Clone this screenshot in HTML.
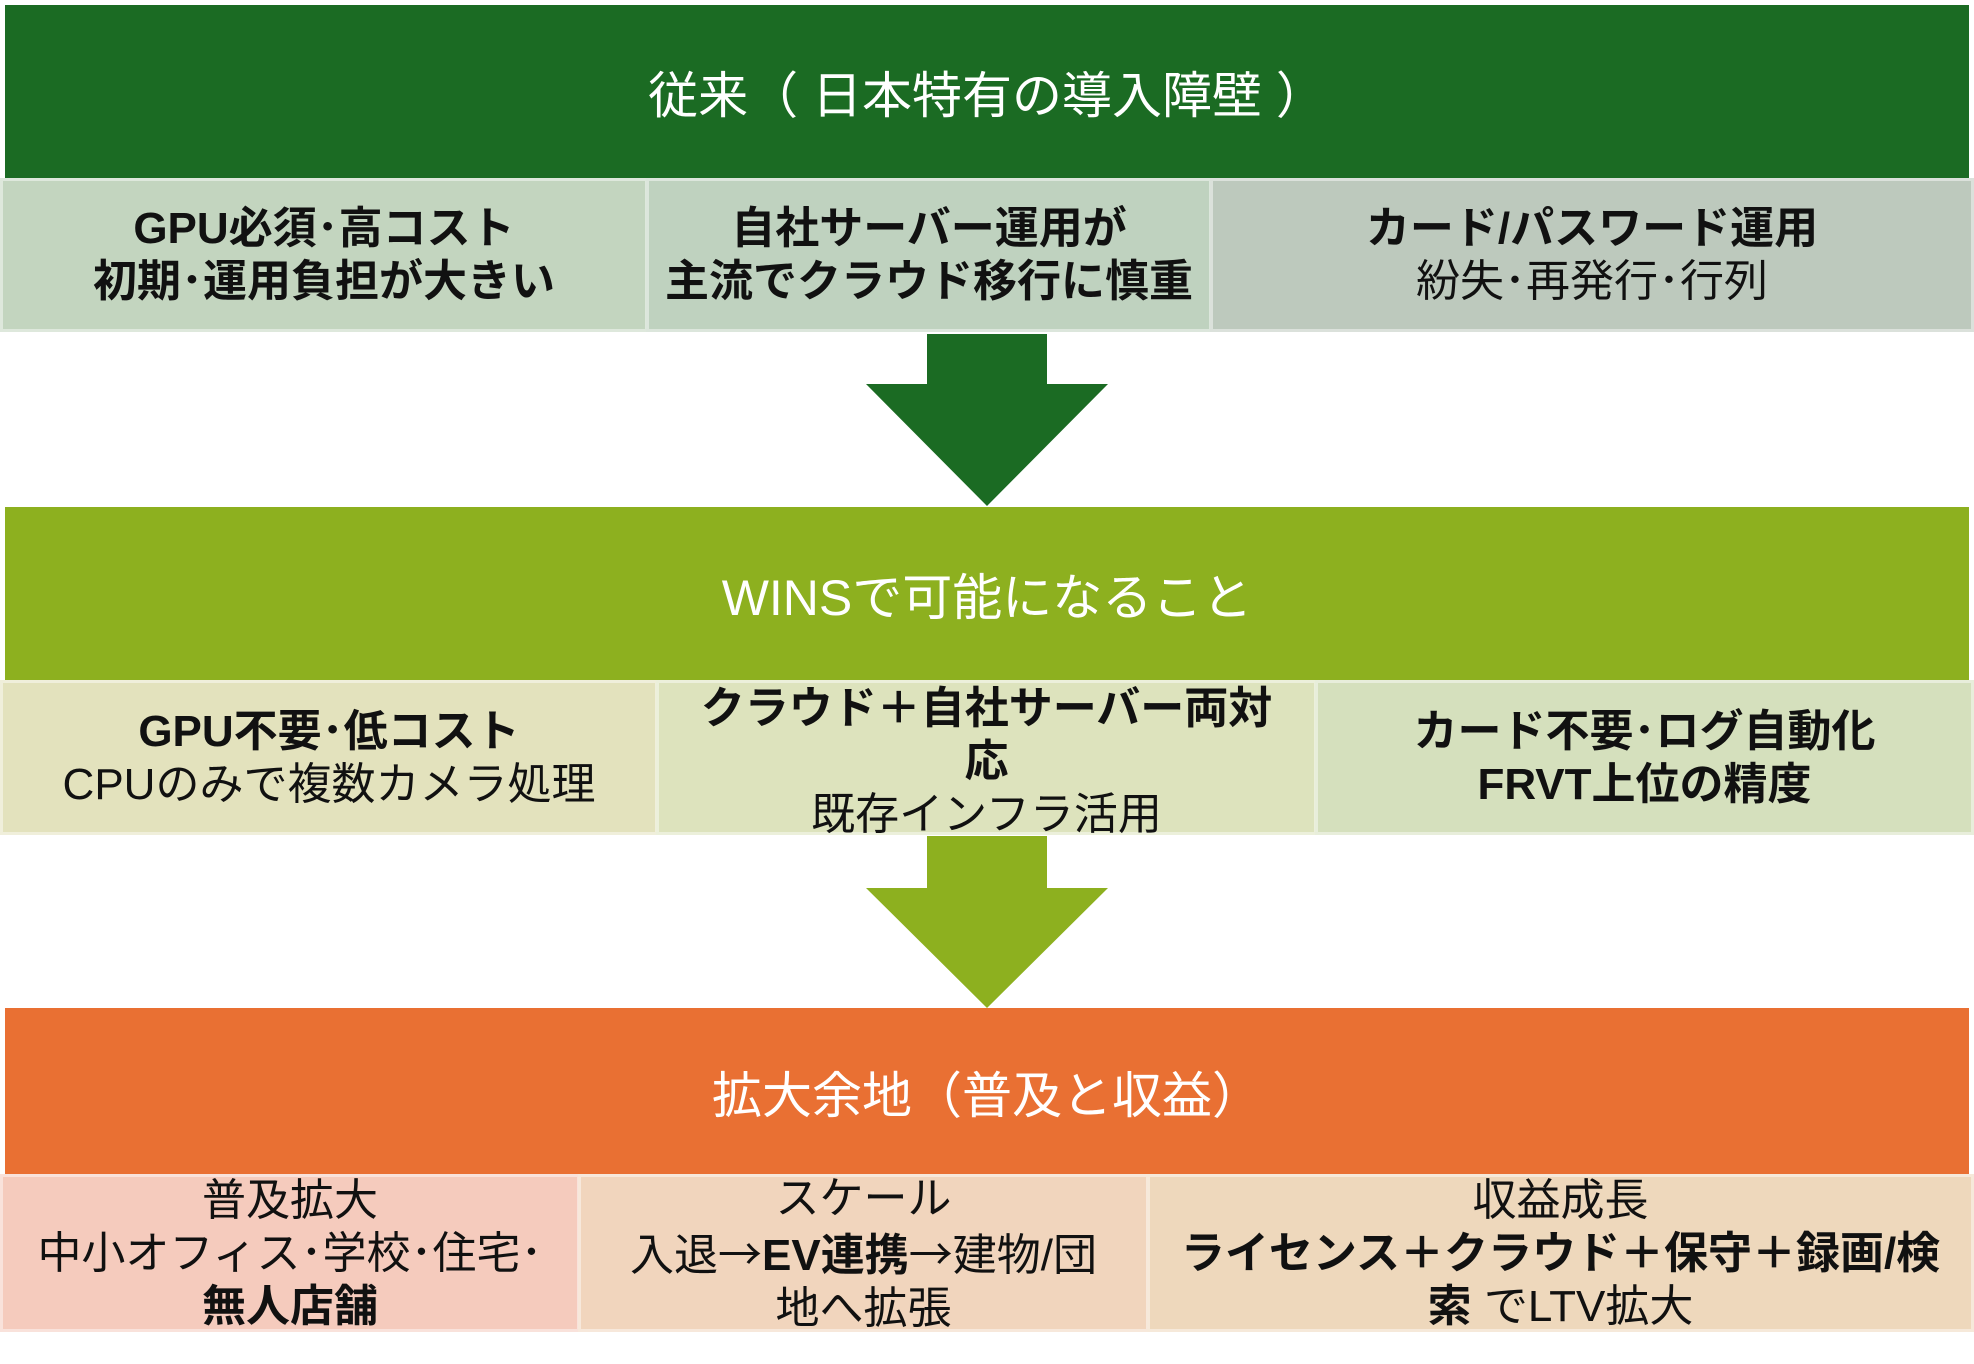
<!DOCTYPE html>
<html><head><meta charset="utf-8"><style>
body{margin:0;width:1974px;height:1364px;background:#fff;position:relative;overflow:hidden;font-family:"Liberation Sans","Noto Sans CJK JP",sans-serif;}
.a{position:absolute;box-sizing:border-box;display:flex;flex-direction:column;align-items:center;justify-content:center;text-align:center;}
.h{color:#fff;font-size:50px;white-space:pre;}
.c{border:3px solid rgba(255,255,255,0.45);font-size:44px;line-height:53px;color:#111;white-space:nowrap;}
b{font-weight:bold}
.j{font-family:"Noto Sans CJK JP",sans-serif;}
</style></head><body>
<div class="a h" style="left:5px;top:5px;width:1964px;height:174px;background:#1b6b23;">従来（ 日本特有の導入障壁 ）</div>
<div class="a c" style="left:0;top:178px;width:648px;height:154px;background:#c3d5bf;"><div><b>GPU必須･高コスト</b></div><div><b>初期･運用負担が大きい</b></div></div>
<div class="a c" style="left:646px;top:178px;width:566px;height:154px;background:#bfd2bf;"><div><b>自社サーバー運用が</b></div><div><b>主流でクラウド移行に慎重</b></div></div>
<div class="a c" style="left:1210px;top:178px;width:764px;height:154px;background:#bdc9bd;"><div><b>カード/パスワード運用</b></div><div>紛失･再発行･行列</div></div>
<svg style="position:absolute;left:0;top:0" width="1974" height="1364">
<polygon points="927,334 1047,334 1047,384 1108,384 987,506 866,384 927,384" fill="#1b6b23"/>
<polygon points="927,836 1047,836 1047,888 1108,888 987,1008 866,888 927,888" fill="#8db01f"/>
</svg>
<div class="a h" style="left:5px;top:507px;width:1964px;height:174px;background:#8db01f;">WINSで可能になること</div>
<div class="a c" style="left:0;top:680px;width:658px;height:155px;background:#e3e2bd;"><div><b>GPU不要･低コスト</b></div><div>CPUのみで複数カメラ処理</div></div>
<div class="a c" style="left:656px;top:680px;width:661px;height:155px;background:#dde3bd;padding-top:8px;"><div><b>クラウド＋自社サーバー両対</b></div><div><b>応</b></div><div>既存インフラ活用</div></div>
<div class="a c" style="left:1315px;top:680px;width:659px;height:155px;background:#d5e0bd;"><div><b>カード不要･ログ自動化</b></div><div><b>FRVT上位の精度</b></div></div>
<div class="a h" style="left:5px;top:1008px;width:1964px;height:168px;background:#e97033;">拡大余地（普及と収益）</div>
<div class="a c" style="left:0;top:1174px;width:580px;height:158px;background:#f5cbbd;"><div>普及拡大</div><div>中小オフィス･学校･住宅･</div><div><b>無人店舗</b></div></div>
<div class="a c" style="left:578px;top:1174px;width:571px;height:158px;background:#f1d5bd;"><div>スケール</div><div>入退<span class="j">→</span><b>EV連携</b><span class="j">→</span>建物/団</div><div>地へ拡張</div></div>
<div class="a c" style="left:1147px;top:1174px;width:827px;height:158px;background:#eed8bc;"><div>収益成長</div><div><b>ライセンス＋クラウド＋保守＋録画/検</b></div><div><b>索</b> でLTV拡大</div></div>
</body></html>
